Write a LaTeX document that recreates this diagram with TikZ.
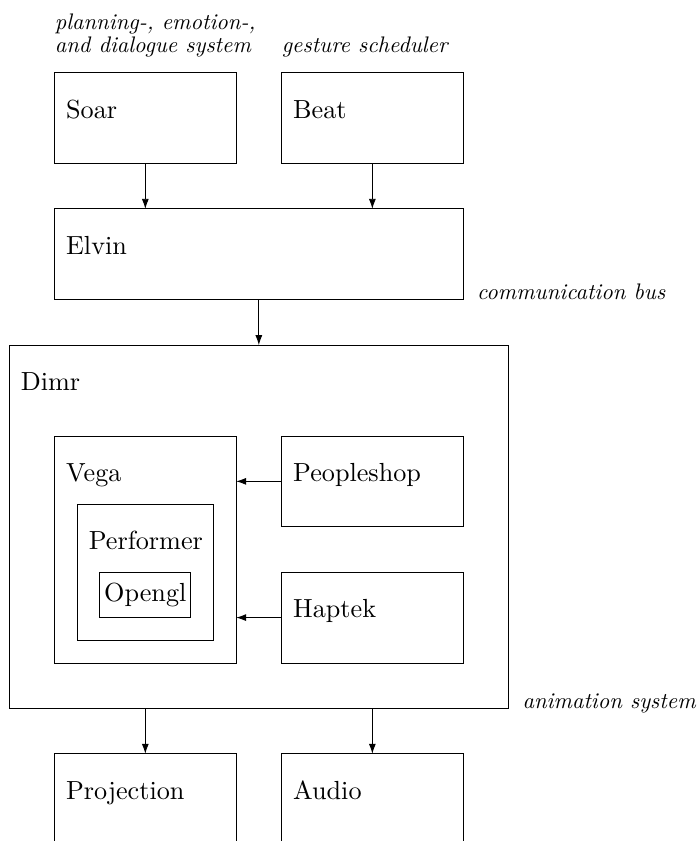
\documentclass[tikz,border=0pt]{standalone}
\usepackage{fontspec}
\newfontfamily\lmtenrm{lmroman10-regular.otf}
\newfontfamily\lmtenit{lmroman10-italic.otf}
\usetikzlibrary{arrows.meta}
\begin{document}
\begin{tikzpicture}[
  box/.style={draw, line width=0.55pt, rectangle, inner sep=0pt, outer sep=0pt, anchor=north west},
  rm/.style={inner sep=0pt, anchor=base west, font=\lmtenrm\fontsize{16.4}{19.7}\selectfont},
  it/.style={inner sep=0pt, anchor=base west, font=\lmtenit\fontsize{14.1}{17}\selectfont},
  arr/.style={line width=0.55pt, -{Latex[length=6.3pt,width=4.4pt]}}
]
\useasboundingbox (0,0) rectangle (15.35,-18.52);
% boxes
\node[box, minimum width=4cm, minimum height=2cm] (soar) at (1.2,-1.6) {};
\node[box, minimum width=4cm, minimum height=2cm] (beat) at (6.2,-1.6) {};
\node[box, minimum width=9cm, minimum height=2cm] (elvin) at (1.2,-4.6) {};
\node[box, minimum width=11cm, minimum height=8cm] (dimr) at (0.2,-7.6) {};
\node[box, minimum width=4cm, minimum height=5cm] (vega) at (1.2,-9.6) {};
\node[box, minimum width=4cm, minimum height=2cm] (people) at (6.2,-9.6) {};
\node[box, minimum width=4cm, minimum height=2cm] (haptek) at (6.2,-12.6) {};
\node[box, minimum width=3cm, minimum height=3cm] (perf) at (1.7,-11.1) {};
\node[box, minimum width=2cm, minimum height=1cm, anchor=center, font=\lmtenrm\fontsize{16.4}{19.7}\selectfont] (opengl) at (3.2,-13.1) {Opengl};
\node[box, minimum width=4cm, minimum height=2cm] (proj) at (1.2,-16.6) {};
\node[box, minimum width=4cm, minimum height=2cm] (audio) at (6.2,-16.6) {};
% box texts
\node[rm] (soarT) at ([shift={(0.25,-1)}]soar.north west) {Soar};
\node[rm] (beatT) at ([shift={(0.25,-1)}]beat.north west) {Beat};
\node[rm] (elvinT) at ([shift={(0.25,-1)}]elvin.north west) {Elvin};
\node[rm] (dimrT) at ([shift={(0.25,-1)}]dimr.north west) {Dimr};
\node[rm] (vegaT) at ([shift={(0.25,-1)}]vega.north west) {Vega};
\node[rm] (peopleT) at ([shift={(0.25,-1)}]people.north west) {Peopleshop};
\node[rm] (haptekT) at ([shift={(0.25,-1)}]haptek.north west) {Haptek};
\node[rm] (perfT) at ([shift={(0.25,-1)}]perf.north west) {Performer};
\node[rm] (projT) at ([shift={(0.25,-1)}]proj.north west) {Projection};
\node[rm] (audioT) at ([shift={(0.25,-1)}]audio.north west) {Audio};
% italic labels
\node[it] (lab1a) at (1.2,-0.65) {planning-, emotion-,};
\node[it] (lab1b) at (1.2,-1.15) {and dialogue system};
\node[it] (lab2) at (6.2,-1.15) {gesture scheduler};
\node[it] (lab3) at ([xshift=0.3cm]elvin.south east) {communication bus};
\node[it] (lab4) at ([xshift=0.3cm]dimr.south east) {animation system};
% arrows
\draw[arr] (soar.south) -- (soar.south |- elvin.north);
\draw[arr] (beat.south) -- (beat.south |- elvin.north);
\draw[arr] (elvin.south) -- (elvin.south |- dimr.north);
\draw[arr] (people.west) -- (people.west -| vega.east);
\draw[arr] (haptek.west) -- (haptek.west -| vega.east);
\draw[arr] (proj.north |- dimr.south) -- (proj.north);
\draw[arr] (audio.north |- dimr.south) -- (audio.north);
\end{tikzpicture}
\end{document}
